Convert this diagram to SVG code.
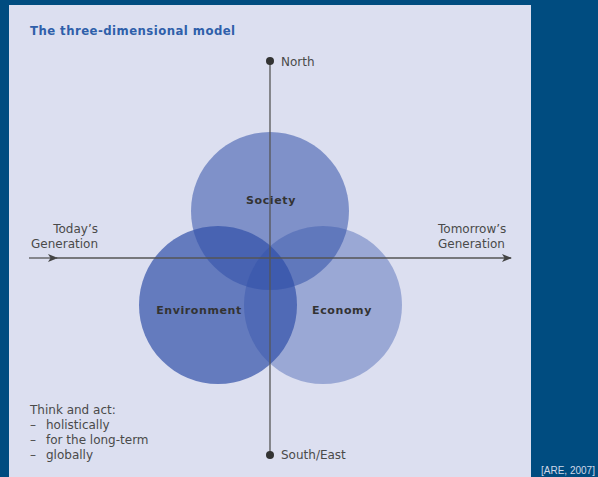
<svg xmlns="http://www.w3.org/2000/svg" width="598" height="477" viewBox="0 0 598 477">
  <defs>
    <style>
      .lbl { font-family: "DejaVu Sans", "Liberation Sans", sans-serif; font-size: 12px; fill: #4a4a4a; }
      .dim { font-family: "DejaVu Sans", "Liberation Sans", sans-serif; font-size: 11px; font-weight: bold; fill: #333; letter-spacing: 0.6px; text-anchor: middle; }
      .axis { stroke: #555; stroke-width: 1.3; fill: none; }
      .circ { fill: #3050a8; }
    </style>
    <marker id="arrow" viewBox="0 0 10 8" refX="9" refY="4" markerWidth="10" markerHeight="8" markerUnits="userSpaceOnUse" orient="auto">
      <path d="M0,0 L10,4 L0,8 L2.5,4 Z" fill="#444"/>
    </marker>
  </defs>

  <!-- page background and panel -->
  <rect x="0" y="0" width="598" height="477" fill="#004c80"/>
  <rect x="9" y="5" width="522" height="472" fill="#dcdff0"/>

  <text x="30" y="35" font-family="DejaVu Sans Condensed, DejaVu Sans, sans-serif" font-stretch="condensed" font-size="13" font-weight="bold" letter-spacing="0.45" fill="#2f5faa">The three-dimensional model</text>

  <!-- the three dimensions -->
  <g id="society">
    <circle class="circ" cx="270" cy="211" r="79" fill-opacity="0.54"/>
  </g>
  <g id="environment">
    <circle class="circ" cx="218" cy="305" r="79" fill-opacity="0.7"/>
  </g>
  <g id="economy">
    <circle class="circ" cx="323" cy="305" r="79" fill-opacity="0.38"/>
  </g>

  <!-- axes -->
  <g id="connectors">
    <line class="axis" x1="270" y1="61" x2="270" y2="455"/>
    <circle cx="270" cy="61" r="4" fill="#333"/>
    <circle cx="270" cy="455" r="4" fill="#333"/>
    <line class="axis" x1="29" y1="258" x2="57" y2="258" marker-end="url(#arrow)"/>
    <line class="axis" x1="55" y1="258" x2="511" y2="258" marker-end="url(#arrow)"/>
  </g>

  <!-- labels -->
  <text class="dim" x="271" y="204">Society</text>
  <text class="dim" x="199" y="314">Environment</text>
  <text class="dim" x="342" y="314">Economy</text>

  <text class="lbl" x="281" y="66">North</text>
  <text class="lbl" x="281" y="459">South/East</text>

  <text class="lbl" x="98" y="233" text-anchor="end">Today’s</text>
  <text class="lbl" x="98" y="248" text-anchor="end">Generation</text>
  <text class="lbl" x="438" y="233">Tomorrow’s</text>
  <text class="lbl" x="438" y="248">Generation</text>

  <text class="lbl" x="30" y="414">Think and act:</text>
  <text class="lbl" x="30" y="429">–</text>
  <text class="lbl" x="46" y="429">holistically</text>
  <text class="lbl" x="30" y="444">–</text>
  <text class="lbl" x="46" y="444">for the long-term</text>
  <text class="lbl" x="30" y="459">–</text>
  <text class="lbl" x="46" y="459">globally</text>

  <text x="541" y="474" font-family="Liberation Sans, Arial, sans-serif" font-size="10" fill="#d0d8e8">[ARE, 2007]</text>
</svg>
